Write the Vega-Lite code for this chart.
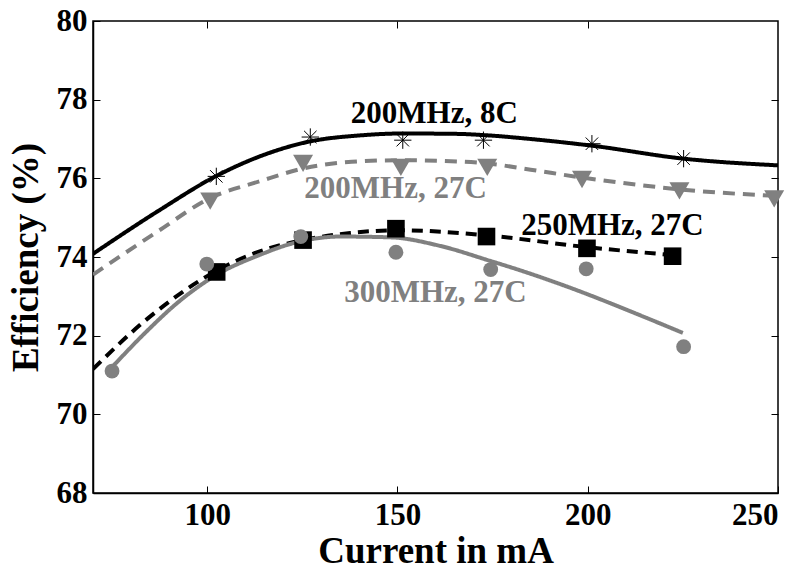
{
  "$schema": "https://vega.github.io/schema/vega-lite/v6.json",
  "width": 685,
  "height": 472,
  "autosize": {"type": "none"},
  "padding": {"left": 93, "top": 21, "right": 30, "bottom": 76},
  "background": "white",
  "config": {
    "view": {"stroke": "black", "strokeWidth": 1.5},
    "font": "Liberation Serif",
    "axis": {
      "grid": false,
      "domainColor": "black",
      "domainWidth": 1.5,
      "tickColor": "black",
      "tickWidth": 1,
      "tickSize": -7,
      "labelFont": "Liberation Serif",
      "labelFontWeight": "bold",
      "labelFontSize": 31,
      "labelColor": "black",
      "titleFont": "Liberation Serif",
      "titleFontWeight": "bold",
      "titleFontSize": 37,
      "titleColor": "black"
    }
  },
  "datasets": {
    "curves": [
      {"series": "200MHz, 8C", "current": 70, "eff": 74.08},
      {"series": "200MHz, 8C", "current": 87.3, "eff": 75.18},
      {"series": "200MHz, 8C", "current": 102.4, "eff": 76.06},
      {"series": "200MHz, 8C", "current": 115, "eff": 76.6},
      {"series": "200MHz, 8C", "current": 127.1, "eff": 76.94},
      {"series": "200MHz, 8C", "current": 140, "eff": 77.09},
      {"series": "200MHz, 8C", "current": 151.4, "eff": 77.14},
      {"series": "200MHz, 8C", "current": 165.8, "eff": 77.13},
      {"series": "200MHz, 8C", "current": 172.6, "eff": 77.1},
      {"series": "200MHz, 8C", "current": 185, "eff": 77.0},
      {"series": "200MHz, 8C", "current": 201.1, "eff": 76.83},
      {"series": "200MHz, 8C", "current": 225.2, "eff": 76.5},
      {"series": "200MHz, 8C", "current": 250, "eff": 76.33},
      {"series": "200MHz, 27C", "current": 70, "eff": 73.55},
      {"series": "200MHz, 27C", "current": 87.3, "eff": 74.67},
      {"series": "200MHz, 27C", "current": 100.8, "eff": 75.5},
      {"series": "200MHz, 27C", "current": 114, "eff": 75.93},
      {"series": "200MHz, 27C", "current": 125.2, "eff": 76.25},
      {"series": "200MHz, 27C", "current": 138, "eff": 76.42},
      {"series": "200MHz, 27C", "current": 150.9, "eff": 76.46},
      {"series": "200MHz, 27C", "current": 165.8, "eff": 76.43},
      {"series": "200MHz, 27C", "current": 173.6, "eff": 76.38},
      {"series": "200MHz, 27C", "current": 185, "eff": 76.22},
      {"series": "200MHz, 27C", "current": 198.5, "eff": 76.02},
      {"series": "200MHz, 27C", "current": 212, "eff": 75.85},
      {"series": "200MHz, 27C", "current": 224.1, "eff": 75.72},
      {"series": "200MHz, 27C", "current": 250, "eff": 75.55},
      {"series": "250MHz, 27C", "current": 70, "eff": 71.15},
      {"series": "250MHz, 27C", "current": 83.8, "eff": 72.39},
      {"series": "250MHz, 27C", "current": 102.5, "eff": 73.65},
      {"series": "250MHz, 27C", "current": 114, "eff": 74.15},
      {"series": "250MHz, 27C", "current": 125.2, "eff": 74.43},
      {"series": "250MHz, 27C", "current": 137.6, "eff": 74.61},
      {"series": "250MHz, 27C", "current": 150.4, "eff": 74.68},
      {"series": "250MHz, 27C", "current": 173.4, "eff": 74.55},
      {"series": "250MHz, 27C", "current": 199.8, "eff": 74.25},
      {"series": "250MHz, 27C", "current": 222.3, "eff": 74.05},
      {"series": "300MHz, 27C", "current": 75, "eff": 71.2},
      {"series": "300MHz, 27C", "current": 84, "eff": 72.1},
      {"series": "300MHz, 27C", "current": 92, "eff": 72.82},
      {"series": "300MHz, 27C", "current": 102, "eff": 73.52},
      {"series": "300MHz, 27C", "current": 114, "eff": 74.06},
      {"series": "300MHz, 27C", "current": 121.8, "eff": 74.33},
      {"series": "300MHz, 27C", "current": 135, "eff": 74.52},
      {"series": "300MHz, 27C", "current": 148.1, "eff": 74.5},
      {"series": "300MHz, 27C", "current": 161.3, "eff": 74.28},
      {"series": "300MHz, 27C", "current": 174.4, "eff": 73.9},
      {"series": "300MHz, 27C", "current": 182.3, "eff": 73.66},
      {"series": "300MHz, 27C", "current": 194.5, "eff": 73.25},
      {"series": "300MHz, 27C", "current": 215.5, "eff": 72.45},
      {"series": "300MHz, 27C", "current": 225, "eff": 72.07}
    ],
    "points": [
      {"series": "200MHz, 8C", "current": 102.4, "eff": 76.05},
      {"series": "200MHz, 8C", "current": 127.1, "eff": 77.05},
      {"series": "200MHz, 8C", "current": 151.4, "eff": 76.97},
      {"series": "200MHz, 8C", "current": 172.6, "eff": 76.97},
      {"series": "200MHz, 8C", "current": 201.1, "eff": 76.88},
      {"series": "200MHz, 8C", "current": 225.2, "eff": 76.5},
      {"series": "200MHz, 27C", "current": 100.8, "eff": 75.42},
      {"series": "200MHz, 27C", "current": 125.2, "eff": 76.38},
      {"series": "200MHz, 27C", "current": 150.9, "eff": 76.28},
      {"series": "200MHz, 27C", "current": 173.6, "eff": 76.28},
      {"series": "200MHz, 27C", "current": 198.5, "eff": 75.97},
      {"series": "200MHz, 27C", "current": 224.1, "eff": 75.68},
      {"series": "200MHz, 27C", "current": 249, "eff": 75.48},
      {"series": "250MHz, 27C", "current": 102.5, "eff": 73.62},
      {"series": "250MHz, 27C", "current": 125.2, "eff": 74.43},
      {"series": "250MHz, 27C", "current": 149.6, "eff": 74.72},
      {"series": "250MHz, 27C", "current": 173.4, "eff": 74.52},
      {"series": "250MHz, 27C", "current": 199.8, "eff": 74.22},
      {"series": "250MHz, 27C", "current": 222.3, "eff": 74.02},
      {"series": "300MHz, 27C", "current": 75, "eff": 71.1},
      {"series": "300MHz, 27C", "current": 99.9, "eff": 73.82},
      {"series": "300MHz, 27C", "current": 124.6, "eff": 74.52},
      {"series": "300MHz, 27C", "current": 149.6, "eff": 74.12},
      {"series": "300MHz, 27C", "current": 174.5, "eff": 73.68},
      {"series": "300MHz, 27C", "current": 199.6, "eff": 73.7},
      {"series": "300MHz, 27C", "current": 225.2, "eff": 71.72}
    ],
    "labels": [
      {"series": "200MHz, 8C", "text": "200MHz, 8C", "current": 159.7, "eff": 77.4},
      {"series": "200MHz, 27C", "text": "200MHz, 27C", "current": 149.5, "eff": 75.5},
      {"series": "250MHz, 27C", "text": "250MHz, 27C", "current": 206.5, "eff": 74.56},
      {"series": "300MHz, 27C", "text": "300MHz, 27C", "current": 160.0, "eff": 72.86}
    ]
  },
  "resolve": {"axis": {"x": "independent", "y": "independent"}},
  "layer": [
    {
      "data": {"name": "curves"},
      "mark": {"type": "line", "interpolate": "monotone", "strokeWidth": 4, "clip": true},
      "encoding": {
        "x": {"field": "current", "type": "quantitative", "scale": {"domain": [70, 250], "nice": false, "zero": false},
              "axis": {"values": [100, 150, 200, 250], "title": "Current in mA", "labelPadding": 14, "titleBaseline": "alphabetic", "titleY": 69}},
        "y": {"field": "eff", "type": "quantitative", "scale": {"domain": [68, 80], "nice": false, "zero": false},
              "axis": {"values": [68, 70, 72, 74, 76, 78, 80], "title": "Efficiency (%)", "labelPadding": 13, "titlePadding": 11}},
        "color": {"field": "series", "type": "nominal", "legend": null,
                  "scale": {"domain": ["200MHz, 8C", "200MHz, 27C", "250MHz, 27C", "300MHz, 27C"], "range": ["#000000", "#808080", "#000000", "#808080"]}},
        "strokeDash": {"field": "series", "type": "nominal", "legend": null,
                  "scale": {"domain": ["200MHz, 8C", "200MHz, 27C", "250MHz, 27C", "300MHz, 27C"], "range": [[1, 0], [12, 8], [11, 7], [1, 0]]}}
      }
    },
    {
      "data": {"name": "points"},
      "transform": [{"filter": "datum.series === '200MHz, 8C'"}],
      "mark": {"type": "point", "filled": false, "shape": "M-1,0L1,0M0,-1L0,1M-0.72,-0.72L0.72,0.72M-0.72,0.72L0.72,-0.72", "size": 300, "strokeWidth": 1, "color": "black", "opacity": 1},
      "encoding": {
        "x": {"field": "current", "type": "quantitative",
              "axis": {"orient": "top", "values": [100, 150, 200], "labels": false, "title": null, "domain": false}},
        "y": {"field": "eff", "type": "quantitative",
              "axis": {"orient": "right", "values": [70, 72, 74, 76, 78], "labels": false, "title": null, "domain": false}}
      }
    },
    {
      "data": {"name": "points"},
      "transform": [{"filter": "datum.series !== '200MHz, 8C'"}],
      "mark": {"type": "point", "filled": true, "opacity": 1, "clip": false},
      "encoding": {
        "x": {"field": "current", "type": "quantitative", "axis": null},
        "y": {"field": "eff", "type": "quantitative", "axis": null},
        "shape": {"field": "series", "type": "nominal", "legend": null,
                  "scale": {"domain": ["200MHz, 27C", "250MHz, 27C", "300MHz, 27C"], "range": ["triangle-down", "square", "circle"]}},
        "size": {"field": "series", "type": "nominal", "legend": null,
                  "scale": {"domain": ["200MHz, 27C", "250MHz, 27C", "300MHz, 27C"], "range": [400, 220, 320]}},
        "color": {"field": "series", "type": "nominal", "legend": null}
      }
    },
    {
      "data": {"name": "labels"},
      "mark": {"type": "text", "font": "Liberation Serif", "fontWeight": "bold", "fontSize": 31, "baseline": "alphabetic", "align": "center"},
      "encoding": {
        "x": {"field": "current", "type": "quantitative", "axis": null},
        "y": {"field": "eff", "type": "quantitative", "axis": null},
        "text": {"field": "text"},
        "color": {"field": "series", "type": "nominal", "legend": null}
      }
    }
  ]
}
